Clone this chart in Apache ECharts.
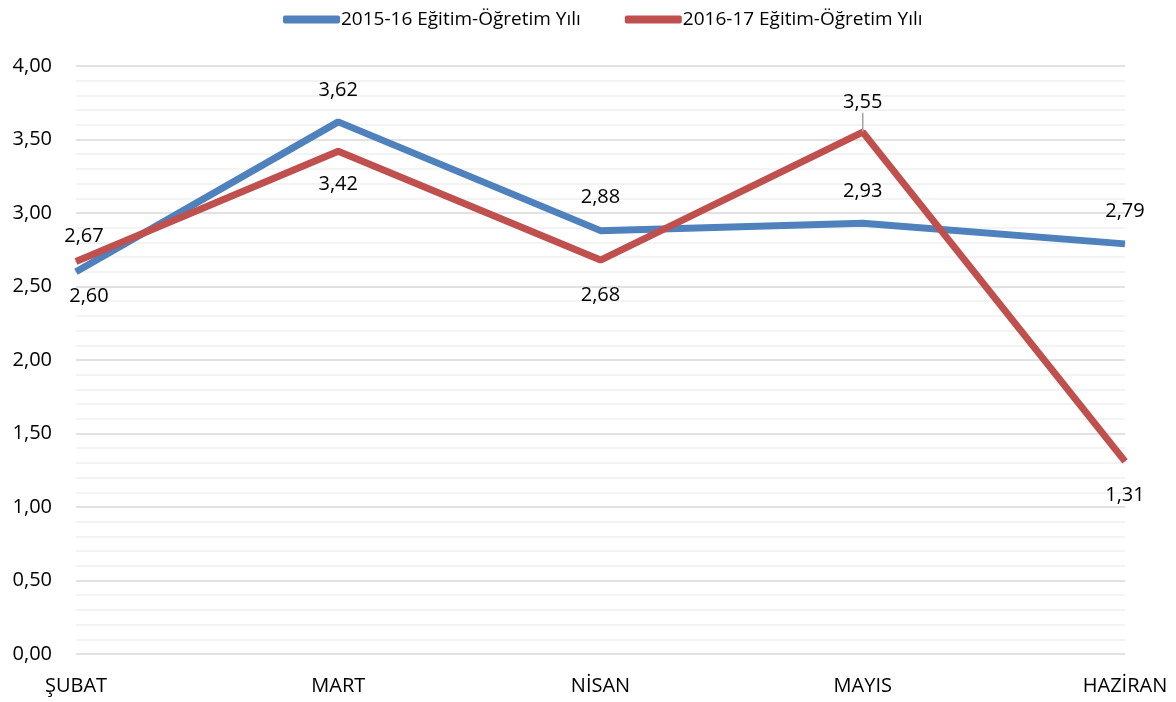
<!DOCTYPE html>
<html><head><meta charset="utf-8">
<script src="https://cdn.jsdelivr.net/npm/echarts@6/dist/echarts.min.js"></script>
<style>html,body{margin:0;padding:0;background:#fff}#c{width:1176px;height:702px}</style>
</head><body><div id="c"></div>
<script>
const categories = ['ŞUBAT', 'MART', 'NİSAN', 'MAYIS', 'HAZİRAN'];
const seriesNames = ['2015-16 Eğitim-Öğretim Yılı', '2016-17 Eğitim-Öğretim Yılı'];
const values2015 = [2.60, 3.62, 2.88, 2.93, 2.79];
const values2016 = [2.67, 3.42, 2.68, 3.55, 1.31];
const pos2015 = ['bottom', 'top', 'top', 'top', 'top'];
const pos2016 = ['top', 'bottom', 'bottom', 'top', 'bottom'];

const fmt = v => v.toFixed(2).replace('.', ',');
const FONT = '"Open Sans", "Noto Sans", sans-serif';

function mkData(vals, pos, dist, offs) {
  return vals.map((v, i) => ({ value: v, label: { position: pos[i], distance: dist[i], offset: offs[i] } }));
}

const redData = mkData(values2016, pos2016, [15, 23, 25, 4, 23], [[0, 0], [0, 0], [0, 0], [0, 0], [0, 0]]);
redData[3].labelLine = { show: true, lineStyle: { color: '#a6a6a6', width: 1.5 } };

const chart = echarts.init(document.getElementById('c'));
chart.setOption({
  animation: false,
  textStyle: { fontFamily: FONT },
  legend: {
    top: 5, left: 278,
    itemWidth: 57, itemHeight: 8, itemGap: 44,
    icon: 'roundRect',
    textStyle: { fontSize: 19, color: '#000', fontFamily: FONT, padding: [0, 0, 0, -4] },
    data: seriesNames
  },
  grid: { left: 76, right: 51, top: 66, bottom: 48 },
  xAxis: {
    type: 'category', data: categories, boundaryGap: false,
    axisLine: { show: false }, axisTick: { show: false },
    axisLabel: { color: '#000', fontSize: 20, margin: 22, fontFamily: FONT },
    splitLine: { show: false }
  },
  yAxis: {
    type: 'value', min: 0, max: 4, interval: 0.5,
    axisLine: { show: false }, axisTick: { show: false },
    axisLabel: { color: '#000', fontSize: 20, margin: 24, formatter: fmt, fontFamily: FONT },
    splitLine: { lineStyle: { color: '#d9d9d9', width: 1.5 } },
    minorTick: { show: false, splitNumber: 5 },
    minorSplitLine: { show: true, lineStyle: { color: '#f0f0f0', width: 1.5 } }
  },
  series: [
    {
      name: seriesNames[0], type: 'line',
      data: mkData(values2015, pos2015, [14, 21, 23, 21, 22], [[13, 0], [0, 0], [0, 0], [0, 0], [0, 0]]),
      color: '#4f81bd', lineStyle: { width: 7, color: '#4f81bd' },
      symbol: 'circle', symbolSize: 1, showSymbol: true, z: 2,
      label: { show: true, color: '#000', fontSize: 20, formatter: p => fmt(p.value), fontFamily: FONT }
    },
    {
      name: seriesNames[1], type: 'line',
      data: redData,
      color: '#c0504d', lineStyle: { width: 7, color: '#c0504d' },
      symbol: 'circle', symbolSize: 1, showSymbol: true, z: 3,
      labelLine: { show: false },
      labelLayout: p => (p.dataIndex === 3 ? { dy: -15 } : p.dataIndex === 0 ? { dx: 8 } : {}),
      label: { show: true, color: '#000', fontSize: 20, formatter: p => fmt(p.value), fontFamily: FONT }
    }
  ]
});
</script></body></html>
